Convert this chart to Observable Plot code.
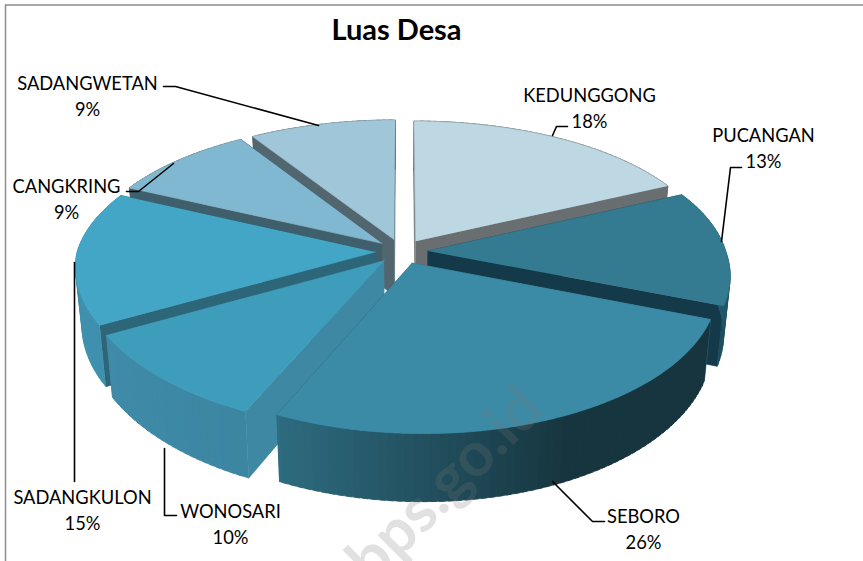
<!DOCTYPE html>
<html>
<head>
<meta charset="utf-8">
<style>html,body{margin:0;padding:0;background:#fff}svg{display:block}</style>
<script src="https://cdn.jsdelivr.net/npm/d3@7"></script>
<script src="https://cdn.jsdelivr.net/npm/@observablehq/plot@0.6"></script>
</head>
<body>
<script>
// Data
const categories = ["KEDUNGGONG","PUCANGAN","SEBORO","WONOSARI","SADANGKULON","CANGKRING","SADANGWETAN"];
const percents = [18,13,26,10,15,9,9];
const title = "Luas Desa";
const watermark = "bps.go.id";

// Styles, by category (rimA: start of the slice's arc, rimB: its end)
const palette = {
  KEDUNGGONG:  {top:"#bdd7e3", edge:"#9db2ba", wall:"#696e70", rimA:"#696e70", rimB:"#696e70"},
  PUCANGAN:    {top:"#347a90", edge:"#347a90", wall:"#143a49", rimA:"#2a6a80", rimB:"#1c4c5d"},
  SEBORO:      {top:"#3b8ba7", edge:"#3b8ba7", wall:"#2c6b80", rimA:"#17353f", rimB:"#2e6c80"},
  WONOSARI:    {top:"#3f9dbc", edge:"#3f9dbc", wall:"#3f88a4", rimA:"#3c86a2", rimB:"#3f8ba8"},
  SADANGKULON: {top:"#44a6c6", edge:"#44a6c6", wall:"#2c6678", rimA:"#3f90ae", rimB:"#3f90ae"},
  CANGKRING:   {top:"#7fb8d0", edge:"#8fb2c2", wall:"#3e5f6b", rimA:"#3e5f6b", rimB:"#3e5f6b"},
  SADANGWETAN: {top:"#a0c7d9", edge:"#98b2be", wall:"#52666f", rimA:"#52666f", rimB:"#52666f"}
};
const drawOrder = ["KEDUNGGONG","SADANGWETAN","CANGKRING","SADANGKULON","PUCANGAN","WONOSARI","SEBORO"];

// Label layout
const labelLayout = {
  KEDUNGGONG:  {x:589, y:93,  leader:[[552,135],[556,126],[567,126]]},
  PUCANGAN:    {x:763, y:133, leader:[[721,241],[730,167],[741,167]]},
  SEBORO:      {x:643, y:514, leader:[[552,481],[592,521],[604,521]]},
  WONOSARI:    {x:230, y:509, leader:[[164,448],[164,515],[176,515]]},
  SADANGKULON: {x:82,  y:495, leader:[[74,262],[74,481]]},
  CANGKRING:   {x:66,  y:184, leader:[[126,191],[138,191],[173,163]]},
  SADANGWETAN: {x:87,  y:81,  leader:[[163,86],[175,86],[318,125]]}
};

// View of the 3D pie
const view = {cx:401, cy:251, rx:298, ry:141, h:57, perspX:0.13, perspY:0.15, shear:10, taper:0.02, explode:0.088};
function project(u, v, z) {
  const sx = 1 / (1 - view.perspX * v), sy = 1 / (1 - view.perspY * v);
  return [
    view.cx + u * view.rx * sx * (1 - view.taper * z) + view.shear * Math.max(0, v),
    view.cy + (v * view.ry + z * view.h) * sy
  ];
}

const total = d3.sum(percents);
let acc = 0;
const slices = categories.map((name, i) => {
  const a0 = acc / total * 2 * Math.PI;
  acc += percents[i];
  const a1 = acc / total * 2 * Math.PI;
  const mid = (a0 + a1) / 2;
  return {name, a0, a1, ox: view.explode * Math.sin(mid), oy: -view.explode * Math.cos(mid)};
});

const polys = [];
let pid = 0;
function addPoly(pts, fill, stroke) {
  const id = pid++;
  for (const [x, y] of pts) polys.push({id, x, y, fill, stroke: stroke || fill});
}
for (const name of drawOrder) {
  const s = slices.find(d => d.name === name);
  const c = palette[name];
  const rimPt = (a, z) => project(s.ox + Math.sin(a), s.oy - Math.cos(a), z);
  const apex = z => project(s.ox, s.oy, z);
  // radial walls
  addPoly([apex(0), rimPt(s.a0, 0), rimPt(s.a0, 1), apex(1)], c.wall);
  addPoly([apex(0), rimPt(s.a1, 0), rimPt(s.a1, 1), apex(1)], c.wall);
  // outer rim, facet by facet so that its shading follows the arc; each facet overlaps the next
  const n = Math.max(12, Math.round((s.a1 - s.a0) * 40));
  const step = (s.a1 - s.a0) / n;
  for (let k = n - 1; k >= 0; k--) {
    const a = s.a0 + step * k, b = s.a0 + step * (k + 1);
    const t = k / (n - 1);
    const col = d3.interpolateRgb(c.rimA, c.rimB)(name === "SEBORO" ? Math.max(0, (t - 0.45) / 0.55) : t);
    const b2 = Math.min(s.a1, b + step * 0.6);
    addPoly([rimPt(a, 0), rimPt(b2, 0), rimPt(b2, 1), rimPt(a, 1)], col);
  }
  // top face
  const top = [apex(0)];
  for (let k = 0; k <= 60; k++) top.push(rimPt(s.a0 + (s.a1 - s.a0) * k / 60, 0));
  addPoly(top, c.top, c.edge);
}

const labels = categories.map((name, i) => ({
  x: labelLayout[name].x, y: labelLayout[name].y, text: name + "\n" + percents[i] + "%"
}));
const leaders = categories.flatMap(name => labelLayout[name].leader.map(([x, y]) => ({name, x, y})));

const W = 863, H = 561;
const chart = Plot.plot({
  width: W, height: H, margin: 0,
  x: {domain: [0, W], range: [0, W], axis: null},
  y: {domain: [0, H], range: [0, H], axis: null},
  color: {type: "identity"},
  style: {fontFamily: "Lato, sans-serif", background: "#fff", color: "#000"},
  marks: [
    Plot.ruleY([4.5], {x1: 5, x2: W, stroke: "#8c8c8c", strokeWidth: 1.5}),
    Plot.ruleX([5], {y1: 4.5, y2: H, stroke: "#8c8c8c", strokeWidth: 1.5}),
    Plot.line(polys, {x: "x", y: "y", z: "id", fill: "fill", stroke: "stroke", strokeWidth: 0.7, curve: "linear"}),
    Plot.line(leaders, {x: "x", y: "y", z: "name", stroke: "#000", strokeWidth: 1.6, curve: "linear"}),
    Plot.text(labels, {x: "x", y: "y", dy: 13, text: "text", fontSize: 18.3, lineHeight: 1.42, lineAnchor: "middle", fill: "#000", textAnchor: "middle"}),
    Plot.text([title], {x: () => 396, y: () => 30, text: d => d, fontSize: 29, fontWeight: 700, fill: "#000", textAnchor: "middle"}),
    Plot.text([watermark], {x: () => 445, y: () => 484, text: d => d, rotate: -45, fontSize: 62, fontWeight: 700, fill: "#777", fillOpacity: 0.22, textAnchor: "middle"})
  ]
});
document.body.appendChild(chart);
</script>
</body>
</html>
